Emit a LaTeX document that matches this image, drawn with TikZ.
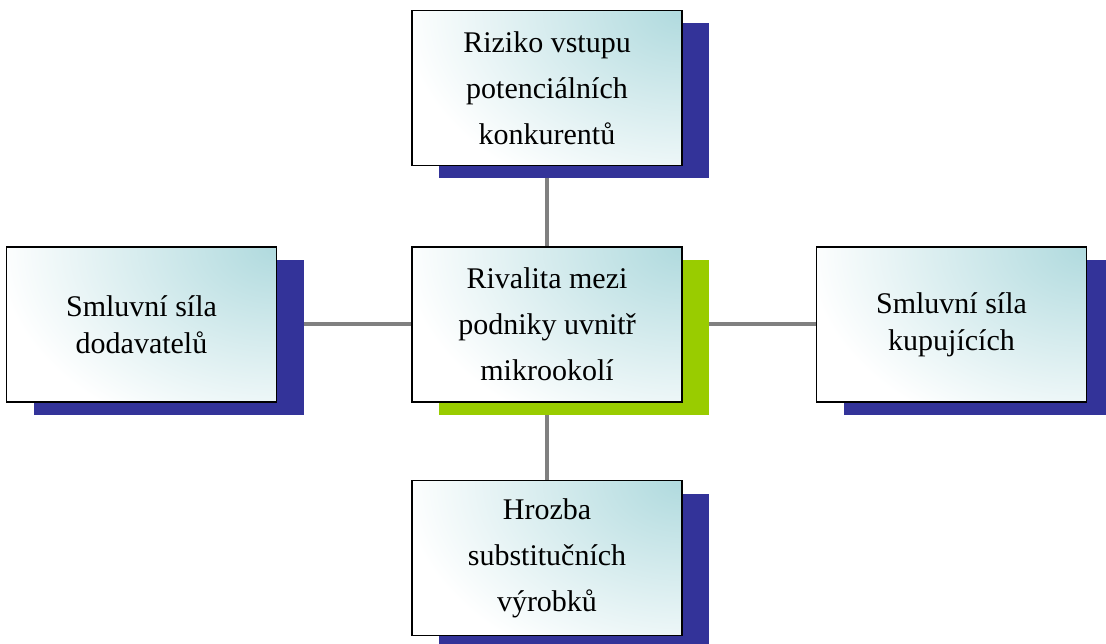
\documentclass[tikz,border=0pt]{standalone}
\usepackage{fontspec}
\setmainfont{Liberation Serif}
\usetikzlibrary{positioning,shadows,backgrounds}
\definecolor{boxteal}{RGB}{176,218,222}
\definecolor{shadowblue}{RGB}{51,51,153}
\definecolor{shadowgreen}{RGB}{153,204,0}
\definecolor{linkgrey}{RGB}{128,128,128}
\tikzset{
  force/.style={
    draw=black,
    line width=1.5pt,
    align=center,
    minimum width=270pt,
    minimum height=155pt,
    inner sep=0pt,
    font=\fontsize{30}{46}\selectfont,
    fill=white,
    path picture={
      \shade[inner color=boxteal, outer color=white]
        (path picture bounding box.north east) ellipse [x radius=280pt, y radius=200pt];
    }
  },
  outer/.style={
    force,
    drop shadow={shadow xshift=27pt, shadow yshift=-13pt, fill=shadowblue, draw=none, opacity=1}
  },
  inner/.style={
    force,
    drop shadow={shadow xshift=27pt, shadow yshift=-13pt, fill=shadowgreen, draw=none, opacity=1}
  },
  link/.style={draw=linkgrey, line width=4pt},
}

\begin{document}
\begin{tikzpicture}[x=1pt, y=1pt]
\useasboundingbox (0,0) rectangle (1106,-644);

% Rivalry in the middle, the four forces around it
\node[inner] (rivalry) at (547,-324.5) {Rivalita mezi\\podniky uvnitř\\mikrookolí};
\node[outer, above=80pt of rivalry] (entrants) {Riziko vstupu\\potenciálních\\konkurentů};
\node[outer, below=77pt of rivalry] (substitutes) {Hrozba\\substitučních\\výrobků};
\node[outer, left=134pt of rivalry, font=\fontsize{30}{37}\selectfont] (suppliers) {Smluvní síla\\dodavatelů};
\node[outer, right=133pt of rivalry, font=\fontsize{30}{37}\selectfont] (buyers) {Smluvní síla\\kupujících};

% Links sit behind the shadows
\begin{scope}[on background layer]
  \draw[link] (entrants) -- (rivalry);
  \draw[link] (rivalry) -- (substitutes);
  \draw[link] (suppliers) -- (rivalry);
  \draw[link] (rivalry) -- (buyers);
\end{scope}

\end{tikzpicture}
\end{document}
